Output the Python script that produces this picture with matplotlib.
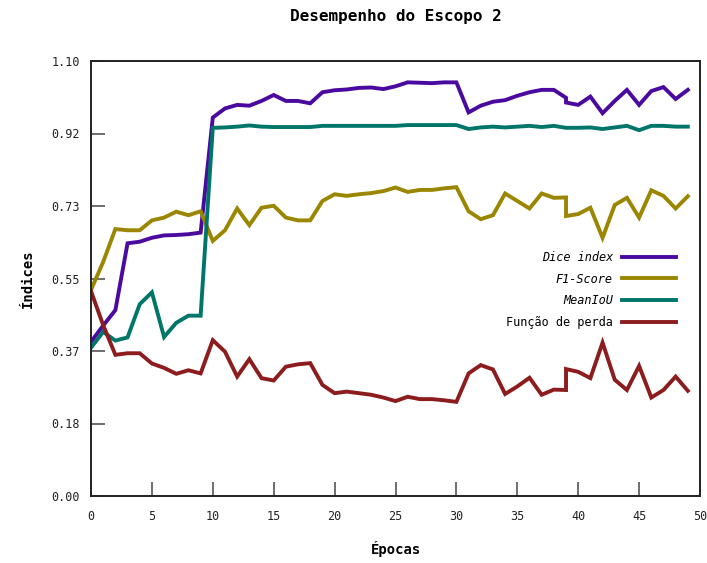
import matplotlib
matplotlib.use("Agg")
import matplotlib.pyplot as plt
import numpy as np

plt.rcParams['font.family'] = ['DejaVu Sans Mono', 'DejaVu Sans']

epochs = list(range(0, 40)) + [39] + list(range(40, 50))

dice = [0.390, 0.431, 0.470, 0.639, 0.643, 0.653, 0.659, 0.660, 0.662, 0.666,
        0.957, 0.980, 0.989, 0.987, 0.999, 1.014, 0.999, 0.999, 0.993, 1.021,
        1.026, 1.028, 1.032, 1.033, 1.029, 1.036, 1.046, 1.045, 1.044, 1.046,
        1.046, 0.970, 0.987, 0.997, 1.001, 1.012, 1.021, 1.027, 1.027, 1.007,
        0.995, 0.989, 1.010, 0.968, 0.999, 1.027, 0.989, 1.024, 1.034, 1.004,
        1.027]

f1 = [0.521, 0.592, 0.675, 0.672, 0.672, 0.697, 0.704, 0.719, 0.710, 0.720,
      0.645, 0.672, 0.727, 0.685, 0.729, 0.734, 0.704, 0.697, 0.697, 0.746,
      0.763, 0.759, 0.763, 0.766, 0.771, 0.780, 0.769, 0.774, 0.774, 0.778,
      0.781, 0.720, 0.700, 0.710, 0.765, 0.746, 0.727, 0.765, 0.754, 0.755,
      0.708, 0.713, 0.729, 0.653, 0.736, 0.754, 0.704, 0.773, 0.759, 0.727,
      0.758]

miou = [0.375, 0.415, 0.393, 0.401, 0.485, 0.515, 0.402, 0.438, 0.456, 0.456,
        0.931, 0.932, 0.934, 0.937, 0.934, 0.933, 0.933, 0.933, 0.933, 0.936,
        0.936, 0.936, 0.936, 0.936, 0.936, 0.936, 0.938, 0.938, 0.938, 0.938,
        0.938, 0.928, 0.932, 0.934, 0.932, 0.934, 0.936, 0.933, 0.936, 0.931,
        0.931, 0.931, 0.932, 0.928, 0.932, 0.936, 0.925, 0.936, 0.936, 0.934,
        0.934]

loss = [0.518, 0.432, 0.357, 0.361, 0.361, 0.335, 0.324, 0.309, 0.318, 0.310,
        0.394, 0.365, 0.302, 0.346, 0.298, 0.292, 0.327, 0.333, 0.336, 0.281,
        0.260, 0.264, 0.260, 0.256, 0.249, 0.240, 0.251, 0.245, 0.245, 0.242,
        0.238, 0.310, 0.331, 0.320, 0.258, 0.277, 0.299, 0.256, 0.269, 0.268,
        0.321, 0.314, 0.298, 0.388, 0.294, 0.268, 0.329, 0.249, 0.268, 0.302,
        0.266]

series_labels = ["Dice index", "F1-Score", "MeanIoU", "Função de perda"]
series_colors = ["#4a0aa0", "#9a8600", "#00766a", "#8c1c1e"]
italic_flags = [True, True, True, False]

yticks = np.linspace(0, 1.1, 7)
xticks = list(range(0, 51, 5))

fig = plt.figure(figsize=(7.07, 5.63), dpi=100)
ax = fig.add_axes([91 / 707, 1 - 496 / 563, 609 / 707, 435 / 563])

for vals, lab, col in zip([dice, f1, miou, loss], series_labels, series_colors):
    ax.plot(epochs, vals, color=col, lw=2.8, label=lab, solid_joinstyle='miter')

ax.set_xlim(0, 50)
ax.set_ylim(0, 1.1)
ax.set_xticks(xticks)
ax.set_yticks(yticks)
ax.set_yticklabels([f"{v:.2f}" for v in yticks])
ax.tick_params(axis='both', direction='in', length=10, width=1.2, color='#555555',
               labelsize=8.5, labelcolor='#222222')
ax.tick_params(axis='y', pad=8)
ax.tick_params(axis='x', pad=10)
for s in ax.spines.values():
    s.set_linewidth(1.4)
    s.set_color('#222222')

ax.set_title("Desempenho do Escopo 2", fontsize=11.5, fontweight='bold', pad=29)
ax.set_xlabel("Épocas", fontsize=10, fontweight='bold', labelpad=13)
ax.set_ylabel("Índices", fontsize=10, fontweight='bold', labelpad=12)

leg = ax.legend(loc='center right', bbox_to_anchor=(0.961, 0.474), frameon=False,
                markerfirst=False, fontsize=8.6, handlelength=4.5, handletextpad=0.8,
                labelspacing=0.72, borderpad=0, borderaxespad=0)
for t, it in zip(leg.get_texts(), italic_flags):
    if it:
        t.set_style('italic')

fig.savefig("out.png", dpi=100)
